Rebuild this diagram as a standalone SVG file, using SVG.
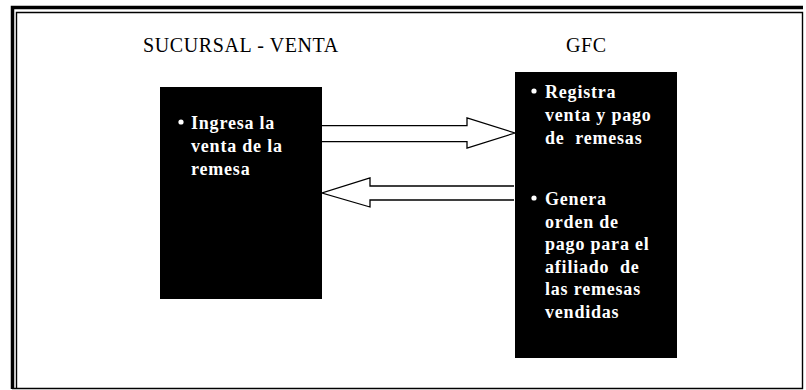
<svg xmlns="http://www.w3.org/2000/svg" width="806" height="390" viewBox="0 0 806 390">
<style>
.title{font-family:"Liberation Serif","Times New Roman",serif;font-size:20px;fill:#000;letter-spacing:0.6px}
.box{fill:#000}
.txt{font-family:"Liberation Serif","Times New Roman",serif;font-size:18px;font-weight:bold;fill:#fff;letter-spacing:0.8px;white-space:pre}
.arrow{fill:#fff;stroke:#000;stroke-width:1.3;stroke-linejoin:miter}
.frame-thick{fill:none;stroke:#000;stroke-width:3.5}
.frame-thin{fill:none;stroke:#000;stroke-width:1.4}
</style>
<rect x="0" y="0" width="806" height="390" fill="#fff"/>
<g id="frame">
<path class="frame-thick" d="M12.5,389 V7.5 H803"/>
<path class="frame-thin" d="M16.5,388 V12.5 H802.5 V388.5 H12"/>
</g>
<g id="title-sucursal"><text class="title" x="143" y="52">SUCURSAL - VENTA</text></g>
<g id="title-gfc"><text class="title" x="566" y="52">GFC</text></g>
<g id="connectors">
<path class="arrow" d="M322,125.7 H467 V118 L515,133 L467,148 V141.7 H322"/>
<path class="arrow" d="M514,186 H370 V178 L322,193 L370,207 V200 H514"/>
</g>
<g id="node-sucursal">
<rect class="box" x="160" y="87" width="162" height="212"/>
<circle cx="181" cy="122" r="2.6" fill="#fff"/>
<text class="txt" x="191" y="129">Ingresa la</text>
<text class="txt" x="191" y="152">venta de la</text>
<text class="txt" x="191" y="175">remesa</text>
</g>
<g id="node-gfc">
<rect class="box" x="515" y="72" width="162" height="286"/>
<circle cx="534" cy="91" r="2.6" fill="#fff"/>
<text class="txt" x="545" y="98">Registra</text>
<text class="txt" x="545" y="121">venta y pago</text>
<text class="txt" x="545" y="144">de  remesas</text>
<circle cx="534" cy="198" r="2.6" fill="#fff"/>
<text class="txt" x="545" y="205">Genera</text>
<text class="txt" x="545" y="227.5">orden de</text>
<text class="txt" x="545" y="250">pago para el</text>
<text class="txt" x="545" y="272.5">afiliado  de</text>
<text class="txt" x="545" y="295">las remesas</text>
<text class="txt" x="545" y="317.5">vendidas</text>
</g>
</svg>
